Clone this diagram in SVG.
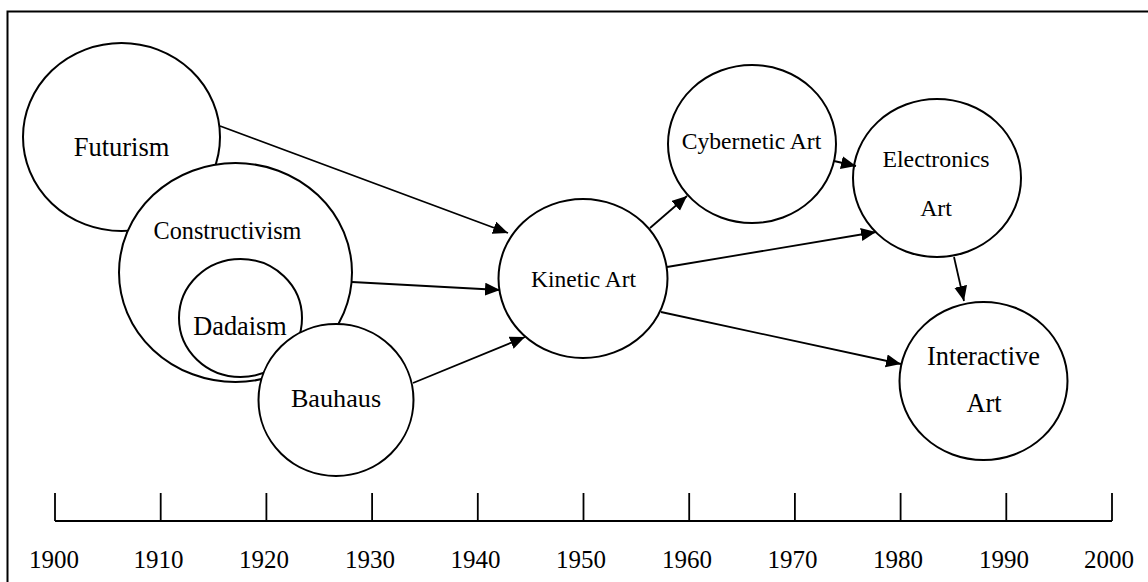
<svg xmlns="http://www.w3.org/2000/svg" width="1148" height="582" viewBox="0 0 1148 582">
<style>
.n{fill:#fff;stroke:#000;stroke-width:2}
.t{font-family:'Liberation Serif','DejaVu Serif',serif;fill:#000;text-anchor:middle}
.c{stroke:#000;stroke-width:1.8;fill:none;marker-end:url(#ah)}
.ax{stroke:#000;stroke-width:1.8;fill:none}
</style>
<defs>
<marker id="ah" markerUnits="userSpaceOnUse" markerWidth="16" markerHeight="14" refX="15" refY="6.5" orient="auto">
<path d="M0,0 L15,6.5 L0,13 z" fill="#000"/>
</marker>
</defs>
<rect width="1148" height="582" fill="#fff"/>
<path d="M7.5,582 V11.5 H1148" fill="none" stroke="#000" stroke-width="2"/>

<g id="futurism">
<ellipse class="n" cx="121.5" cy="137" rx="98.5" ry="94"/>
<text class="t" font-family="Liberation Serif" x="121.5" y="156" font-size="26.5">Futurism</text>
</g>
<g id="constructivism">
<ellipse class="n" cx="235.5" cy="272.5" rx="116.5" ry="109.5"/>
<text class="t" font-family="Liberation Serif" x="227.5" y="239" font-size="24.2">Constructivism</text>
</g>
<g id="dadaism">
<ellipse class="n" cx="240.5" cy="318" rx="61.5" ry="59"/>
<text class="t" font-family="Liberation Serif" x="240" y="335" font-size="26.3">Dadaism</text>
</g>
<g id="bauhaus">
<ellipse class="n" cx="336" cy="400" rx="77.5" ry="76"/>
<text class="t" font-family="Liberation Serif" x="336" y="407" font-size="26.2">Bauhaus</text>
</g>
<g id="kinetic">
<ellipse class="n" cx="583" cy="278.5" rx="84.5" ry="79.5"/>
<text class="t" font-family="Liberation Serif" x="583.5" y="287" font-size="23.5">Kinetic Art</text>
</g>
<g id="cybernetic">
<ellipse class="n" cx="752" cy="144" rx="84" ry="79"/>
<text class="t" font-family="Liberation Serif" x="751.5" y="149" font-size="23.6">Cybernetic Art</text>
</g>
<g id="electronics">
<ellipse class="n" cx="937" cy="178" rx="84" ry="79"/>
<text class="t" font-family="Liberation Serif" x="936" y="167" font-size="23.8">Electronics</text>
<text class="t" font-family="Liberation Serif" x="936" y="216" font-size="23.8">Art</text>
</g>
<g id="interactive">
<ellipse class="n" cx="983.5" cy="381" rx="84" ry="79"/>
<text class="t" font-family="Liberation Serif" x="983.5" y="365" font-size="26.4">Interactive</text>
<text class="t" font-family="Liberation Serif" x="984" y="412" font-size="26.4">Art</text>
</g>

<g id="connectors">
<line class="c" x1="220" y1="126" x2="508" y2="233"/>
<line class="c" x1="352" y1="282" x2="500" y2="290"/>
<line class="c" x1="413" y1="383" x2="525" y2="337"/>
<line class="c" x1="650" y1="228" x2="687" y2="196"/>
<line class="c" x1="667" y1="267" x2="876" y2="232"/>
<line class="c" x1="661" y1="312" x2="901" y2="364"/>
<line class="c" x1="834" y1="161" x2="856" y2="166"/>
<line class="c" x1="954" y1="257" x2="964" y2="301"/>
</g>

<g id="timeline">
<path class="ax" d="M55,521 H1112 M55,493 V521 M160.7,493 V521 M266.4,493 V521 M372.1,493 V521 M477.8,493 V521 M583.5,493 V521 M689.2,493 V521 M794.9,493 V521 M900.6,493 V521 M1006.3,493 V521 M1112,493 V521"/>
<g class="t" font-family="Liberation Serif" font-size="25">
<text x="54" y="568">1900</text>
<text x="158.5" y="568">1910</text>
<text x="264" y="568">1920</text>
<text x="370" y="568">1930</text>
<text x="475.5" y="568">1940</text>
<text x="581" y="568">1950</text>
<text x="687" y="568">1960</text>
<text x="792.5" y="568">1970</text>
<text x="898" y="568">1980</text>
<text x="1004" y="568">1990</text>
<text x="1109" y="568">2000</text>
</g>
</g>
</svg>
